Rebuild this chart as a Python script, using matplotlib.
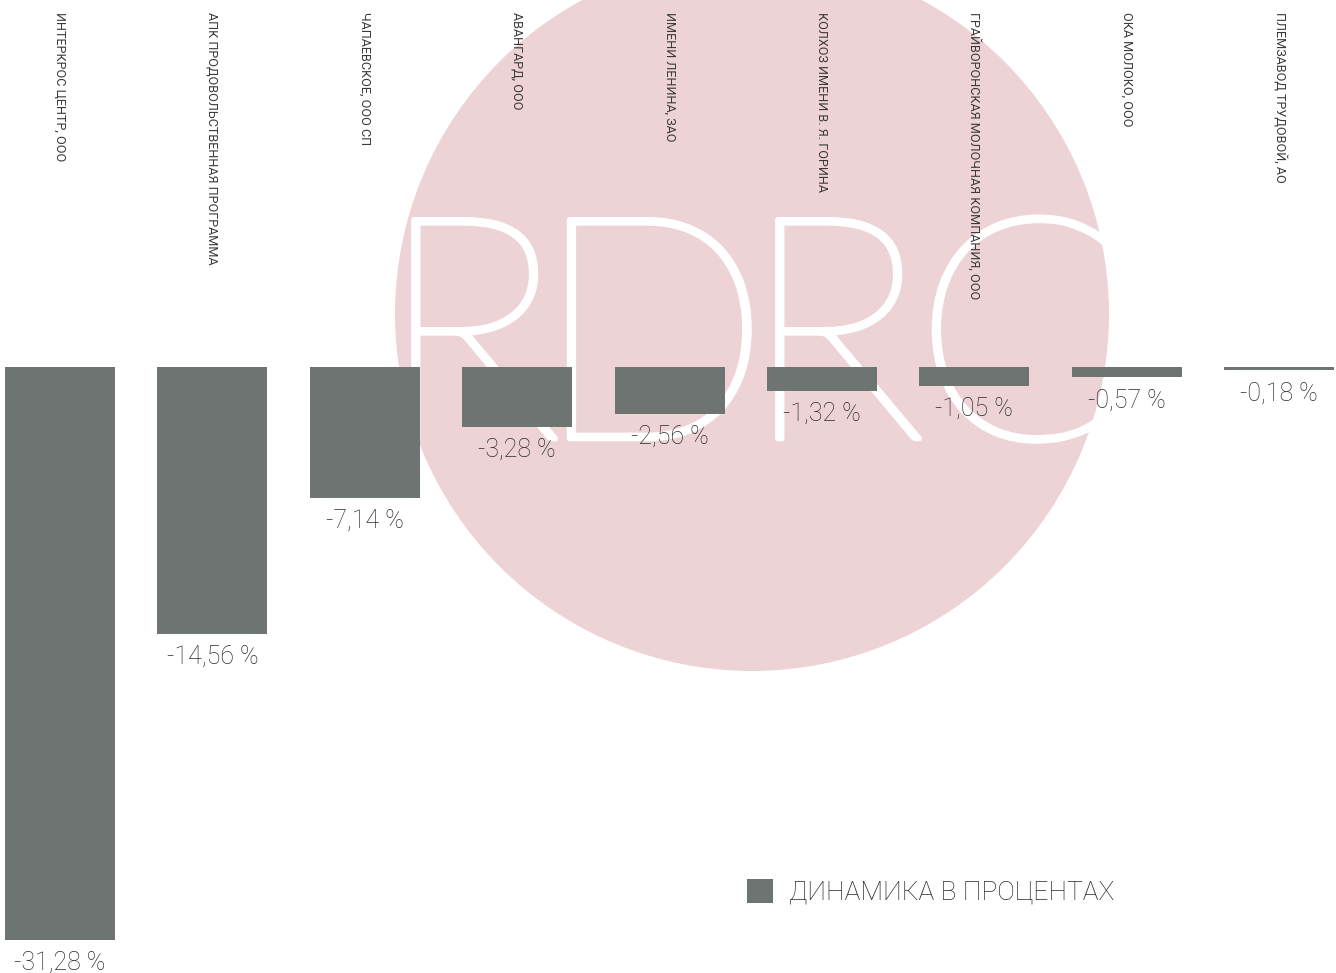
import matplotlib
matplotlib.use("Agg")
import matplotlib.pyplot as plt
from matplotlib.patches import Circle, Patch
import matplotlib.patheffects as pe
import matplotlib.transforms as mtransforms

categories = [
    "ИНТЕРКРОС ЦЕНТР, ООО",
    "АПК ПРОДОВОЛЬСТВЕННАЯ ПРОГРАММА",
    "ЧАПАЕВСКОЕ, ООО СП",
    "АВАНГАРД, ООО",
    "ИМЕНИ ЛЕНИНА, ЗАО",
    "КОЛХОЗ ИМЕНИ В. Я. ГОРИНА",
    "ГРАЙВОРОНСКАЯ МОЛОЧНАЯ КОМПАНИЯ, ООО",
    "ОКА МОЛОКО, ООО",
    "ПЛЕМЗАВОД ТРУДОВОЙ, АО",
]
values = [-31.28, -14.56, -7.14, -3.28, -2.56, -1.32, -1.05, -0.57, -0.18]
value_labels = ["-31,28 %", "-14,56 %", "-7,14 %", "-3,28 %", "-2,56 %", "-1,32 %", "-1,05 %", "-0,57 %", "-0,18 %"]
series_name = "ДИНАМИКА В ПРОЦЕНТАХ"

W, H, DPI = 1336, 973, 100
BAR = "#6e7471"
PINK = "#eed3d6"
TXT = "#2a2a2a"
FONT = "Roboto"

fig = plt.figure(figsize=(W / DPI, H / DPI), dpi=DPI)
fig.patch.set_facecolor("white")

# background watermark
bg = fig.add_axes([0, 0, 1, 1], zorder=0)
bg.set_xlim(0, W)
bg.set_ylim(H, 0)
bg.axis("off")
bg.add_patch(Circle((752, 314), 357, facecolor=PINK, edgecolor="none"))
for ch, cx in zip("RDRC", [470, 652, 834, 1020]):
    bg.text(cx, 354, ch, color="white", fontsize=225, family="Lato", fontweight=100,
            ha="center", va="center",
            path_effects=[pe.withStroke(linewidth=4, foreground="white")])

ax = fig.add_axes([0, 0, 1, 1], zorder=1)
ax.patch.set_alpha(0)
x = list(range(len(values)))
ax.bar(x, values, width=0.722, color=BAR, zorder=2)
ax.set_xlim(-0.394, 8.374)
ax.set_ylim(-33.08, 20.03)
ax.axis("off")

trans = mtransforms.blended_transform_factory(ax.transData, ax.transAxes)
for i, c in enumerate(categories):
    ax.text(i, 1 - 12 / H, c, transform=trans, rotation=270, ha="center", va="top",
            fontsize=9.1, family=FONT, fontweight="normal", color="#3a3a3a", zorder=3)

for i, (v, lab) in enumerate(zip(values, value_labels)):
    ax.annotate(lab, xy=(i, v), xytext=(0, -11), textcoords="offset pixels",
                ha="center", va="top", fontsize=18, family=FONT, fontweight="light",
                color=TXT, zorder=3)

leg = ax.legend(handles=[Patch(facecolor=BAR, edgecolor="none", label=series_name)],
                loc="center left", bbox_to_anchor=(747 / W, 1 - 892 / H),
                bbox_transform=fig.transFigure, frameon=False, borderpad=0,
                borderaxespad=0, handlelength=1, handleheight=1, handletextpad=0.6,
                prop={"family": FONT, "weight": "light", "size": 19})
for t in leg.get_texts():
    t.set_color(TXT)

fig.savefig("out.png", dpi=DPI, facecolor="white")
